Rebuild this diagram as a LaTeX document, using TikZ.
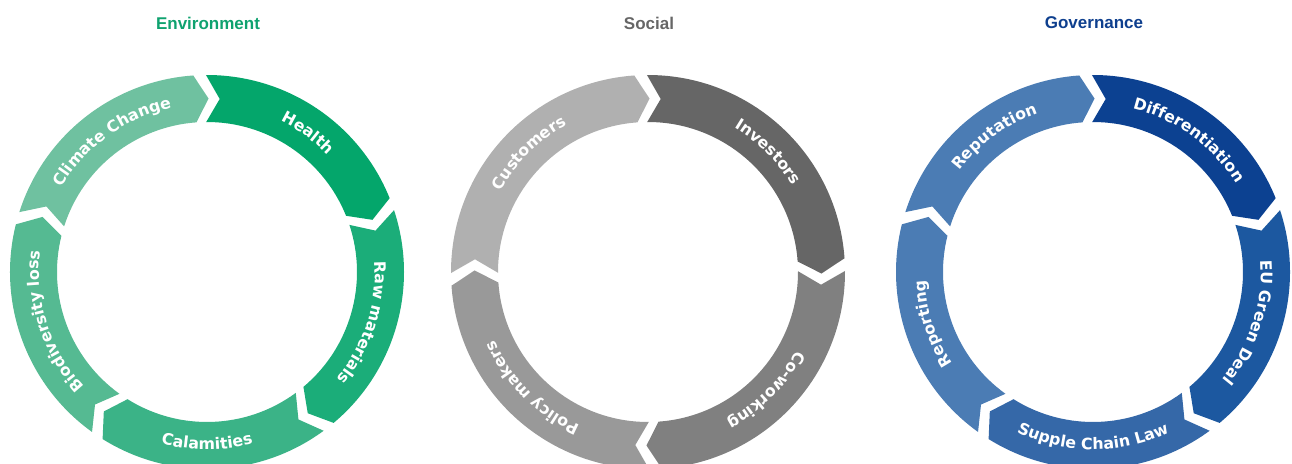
\documentclass[tikz,border=0pt]{standalone}
\usepackage{fontspec}
\setmainfont{DejaVu Sans}
\newfontfamily\headfont{Liberation Sans}
\usetikzlibrary{decorations.text}
\definecolor{envTitle}{HTML}{0FA26F}
\definecolor{envA}{HTML}{6FC1A0}
\definecolor{envB}{HTML}{04A66B}
\definecolor{envC}{HTML}{1BAD79}
\definecolor{envD}{HTML}{3BB387}
\definecolor{envE}{HTML}{55BA92}
\definecolor{socTitle}{HTML}{666666}
\definecolor{socA}{HTML}{B0B0B0}
\definecolor{socB}{HTML}{666666}
\definecolor{socC}{HTML}{808080}
\definecolor{socD}{HTML}{999999}
\definecolor{govTitle}{HTML}{0E3F8E}
\definecolor{govA}{HTML}{4B7CB4}
\definecolor{govB}{HTML}{0C4191}
\definecolor{govC}{HTML}{1C58A0}
\definecolor{govD}{HTML}{3568A8}
\definecolor{govE}{HTML}{4B7CB4}
\newcommand\lbl{\bfseries\fontsize{15.8}{18}\selectfont\color{white}}

\begin{document}
\begin{tikzpicture}[x=1pt,y=1pt,
  title/.style={font=\headfont\bfseries\fontsize{17}{20}\selectfont}]
\useasboundingbox (0,0) rectangle (1292,463);
\node[title,text=envTitle] (env) at (208,440) {Environment};
\node[title,text=socTitle] (soc) at (649,440) {Social};
\node[title,text=govTitle] (gov) at (1094,440) {Governance};
\foreach \cx/\s/\e/\col/\la/\lb/\lr/\txt in {
  207/162/90/envA/162/90/168/{Climate Change},
  207/90/18/envB/90/18/168/{Health},
  207/18/-54/envC/18/-54/168/{Raw materials},
  207/-54/-126/envD/-126/-54/177.5/{Calamities},
  207/-126/-198/envE/-126/-198/168/{Biodiversity loss},
  648/180/90/socA/180/90/168/{Customers},
  648/90/0/socB/90/0/168/{Investors},
  648/0/-90/socC/0/-90/168/{Co-working},
  648/-90/-180/socD/-90/-180/168/{Policy makers},
  1093/162/90/govA/162/90/168/{Reputation},
  1093/90/18/govB/90/18/168/{Differentiation},
  1093/18/-54/govC/18/-54/168/{EU Green Deal},
  1093/-54/-126/govD/-126/-54/177.5/{Supple Chain Law},
  1093/-126/-198/govE/-126/-198/168/{Reporting}}
{
  \begin{scope}[shift={(\cx,191)}]
    \fill[\col] ({\s+0.3}:197) arc[start angle=\s+0.3, end angle=\e+4, radius=197]
      -- ({\e-0.5}:173.5) -- ({\e+4}:150)
      arc[start angle=\e+4, end angle=\s+0.3, radius=150]
      -- ({\s-4.2}:173.5) -- cycle;
    \path[decorate, decoration={text along path, text align=center,
      text/.expanded={|\noexpand\lbl|\txt}}]
      (\la:\lr) arc[start angle=\la, end angle=\lb, radius=\lr];
  \end{scope}
}
\end{tikzpicture}
\end{document}
